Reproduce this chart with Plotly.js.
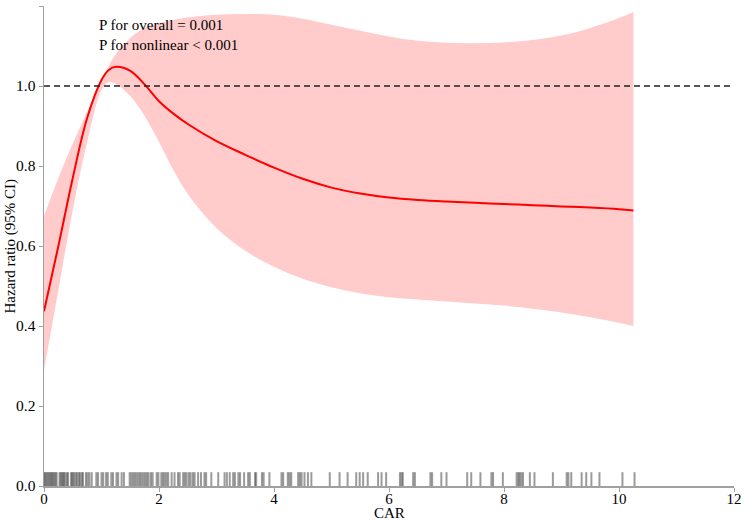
<!DOCTYPE html>
<html>
<head>
<meta charset="utf-8">
<script src="https://cdn.plot.ly/plotly-3.0.1.min.js"></script>
<style>
  html, body { margin: 0; padding: 0; background: #fff; }
  #chart { width: 744px; height: 520px; }
</style>
</head>
<body>
<div id="chart"></div>
<script>
// Restricted cubic spline: hazard ratio of CAR with 95% CI
const car = [0, 0.25, 0.5, 0.75, 1.0, 1.125, 1.25, 1.5, 1.75, 2.0, 2.25, 2.5, 3.0, 3.5, 4.0, 4.5,
             5.0, 5.5, 6.0, 6.5, 7.0, 7.5, 8.0, 8.5, 9.0, 9.5, 10.0, 10.25];
const hr = [0.437, 0.60, 0.77, 0.92, 1.015, 1.04, 1.048, 1.038, 1.004, 0.962, 0.931, 0.905, 0.862, 0.828, 0.796, 0.768,
            0.746, 0.731, 0.721, 0.715, 0.711, 0.708, 0.705, 0.702, 0.699, 0.696, 0.692, 0.689];
const ciUpper = [0.675, 0.77, 0.856, 0.935, 1.01, 1.05, 1.08, 1.12, 1.145, 1.157, 1.165, 1.171, 1.178, 1.18, 1.178, 1.168,
                 1.153, 1.138, 1.124, 1.113, 1.108, 1.107, 1.109, 1.115, 1.126, 1.145, 1.17, 1.185];
const ciLower = [0.29, 0.49, 0.69, 0.86, 0.99, 1.01, 1.005, 0.975, 0.925, 0.86, 0.79, 0.73, 0.645, 0.588, 0.548, 0.518,
                 0.497, 0.482, 0.472, 0.466, 0.461, 0.456, 0.451, 0.443, 0.434, 0.422, 0.408, 0.40];

// Observed CAR values shown as a rug along the x axis
const rugCar = [
  0.00, 0.02, 0.04, 0.06, 0.08, 0.10, 0.12, 0.14, 0.16, 0.18, 0.20, 0.22,
  0.27, 0.29, 0.31, 0.33, 0.35, 0.37, 0.40, 0.42,
  0.47, 0.49, 0.51, 0.53, 0.56, 0.58, 0.61, 0.63, 0.66, 0.68,
  0.73, 0.76, 0.79, 0.83, 0.91, 0.94, 1.00, 1.03, 1.08, 1.11, 1.17, 1.20, 1.26, 1.29, 1.35, 1.39,
  1.49, 1.52, 1.55, 1.58, 1.61, 1.64, 1.67, 1.70, 1.73, 1.76, 1.79, 1.82, 1.86, 1.89,
  1.96, 1.99, 2.04, 2.07, 2.10, 2.13, 2.16, 2.22, 2.27, 2.33, 2.36,
  2.42, 2.45, 2.48, 2.52, 2.55, 2.59, 2.62, 2.68, 2.73, 2.79, 2.82, 2.91, 3.03,
  3.14, 3.18, 3.23, 3.29, 3.32, 3.38, 3.41, 3.48, 3.55, 3.58, 3.67, 3.69, 3.79, 3.82, 3.92,
  4.13, 4.16, 4.24, 4.27, 4.30, 4.42, 4.45, 4.48, 4.53, 4.59, 4.65,
  4.97, 5.14, 5.28, 5.43, 5.49, 5.55, 5.63, 5.81, 5.87, 5.95, 6.19, 6.22, 6.24, 6.42, 6.45,
  6.72, 6.75, 6.91, 7.00, 7.36, 7.43, 7.59, 7.78, 7.81, 7.98, 8.22, 8.25, 8.27, 8.30, 8.33,
  8.45, 8.53, 8.85, 9.09, 9.12, 9.17, 9.35, 9.43, 9.52, 9.66, 10.06, 10.27
];

const xTicks = [0, 2, 4, 6, 8, 10, 12];
const yTicks = [0.0, 0.2, 0.4, 0.6, 0.8, 1.0, 1.2];
const yTickText = ['0.0', '0.2', '0.4', '0.6', '0.8', '1.0', '1.2'];

const serif = 'Liberation Serif, Times New Roman, serif';
const smooth = { shape: 'spline', smoothing: 1 };

// Upper CI edge (no fill), then lower edge filled back up to it
const upperEdge = {
  x: car, y: ciUpper,
  type: 'scatter', mode: 'lines',
  line: Object.assign({ width: 0, color: 'rgba(0,0,0,0)' }, smooth),
  hoverinfo: 'skip', showlegend: false
};
const lowerEdge = {
  x: car, y: ciLower,
  type: 'scatter', mode: 'lines',
  fill: 'tonexty', fillcolor: '#ffcbcb',
  line: Object.assign({ width: 0, color: 'rgba(0,0,0,0)' }, smooth),
  hoverinfo: 'skip', showlegend: false
};

const curve = {
  x: car, y: hr,
  type: 'scatter', mode: 'lines',
  line: Object.assign({ color: '#ff0000', width: 2 }, smooth),
  showlegend: false
};

const rug = {
  x: rugCar,
  y: rugCar.map(() => 0.017),
  type: 'scatter', mode: 'markers',
  marker: {
    symbol: 'line-ns-open', size: 10,
    color: 'rgba(55,55,55,0.5)',
    line: { width: 2, color: 'rgba(55,55,55,0.5)' }
  },
  hoverinfo: 'x', showlegend: false
};

const axisTitleFont = { family: serif, size: 15, color: '#000' };

const layout = {
  width: 744, height: 520,
  margin: { l: 44, r: 10, t: 6, b: 34 },
  paper_bgcolor: '#ffffff', plot_bgcolor: '#ffffff',
  font: { family: serif, size: 15, color: '#000' },
  xaxis: {
    range: [0, 12], tickvals: xTicks, ticktext: xTicks.map(String),
    showgrid: false, zeroline: false,
    showline: true, linecolor: '#a0a0a0', linewidth: 1.5,
    ticks: 'outside', ticklen: 4, tickcolor: '#a0a0a0', tickwidth: 1,
    ticklabelstandoff: -6,
    tickfont: { family: serif, size: 15, color: '#000' }
  },
  yaxis: {
    range: [0, 1.2], tickvals: yTicks, ticktext: yTickText,
    showgrid: false, zeroline: false,
    showline: true, linecolor: '#a0a0a0', linewidth: 1.5,
    ticks: 'outside', ticklen: 4, tickcolor: '#a0a0a0', tickwidth: 1,
    tickfont: { family: serif, size: 15.5, color: '#000' }
  },
  shapes: [{
    type: 'line', xref: 'paper', yref: 'y',
    x0: 0, x1: 1, y0: 1, y1: 1,
    line: { color: '#222', width: 1.6, dash: '6px,4px' }
  }],
  annotations: [
    {
      xref: 'paper', yref: 'paper', x: 0.077, y: 0.982,
      xanchor: 'left', yanchor: 'top', align: 'left', showarrow: false,
      text: 'P for overall = 0.001<br>P for nonlinear < 0.001',
      font: { family: serif, size: 15, color: '#000' }
    },
    // axis titles, placed just outside the tick labels
    {
      xref: 'paper', yref: 'paper', x: 0.5, y: -0.0708,
      xanchor: 'center', yanchor: 'bottom', yshift: -2, borderpad: 0, showarrow: false,
      text: 'CAR', font: axisTitleFont
    },
    {
      xref: 'paper', yref: 'paper', x: -0.05, y: 0.5,
      xanchor: 'center', yanchor: 'middle', showarrow: false, textangle: -90,
      text: 'Hazard ratio (95% CI)', font: axisTitleFont
    }
  ]
};

Plotly.newPlot('chart', [upperEdge, lowerEdge, rug, curve], layout, { displayModeBar: false, staticPlot: true });
</script>
</body>
</html>
